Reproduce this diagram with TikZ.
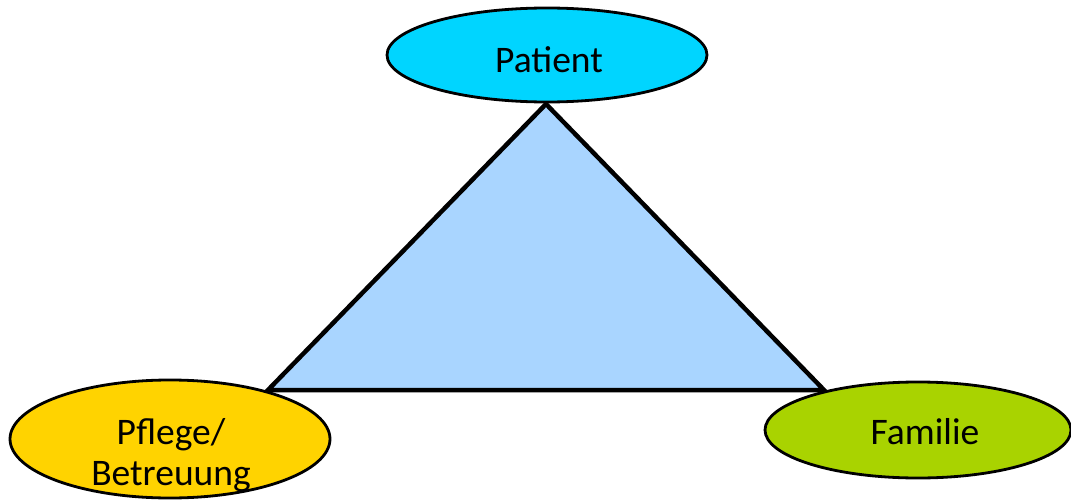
\documentclass[tikz,border=0pt]{standalone}
\usepackage{fontspec}
\setmainfont{Carlito}
\usetikzlibrary{shapes.geometric}
\definecolor{patientblue}{HTML}{00D5FF}
\definecolor{triblue}{HTML}{A9D5FF}
\definecolor{careyellow}{HTML}{FFD300}
\definecolor{familygreen}{HTML}{A9D300}
\tikzset{
  role/.style={ellipse, draw=black, line width=2.8pt, inner sep=0pt},
  rolelabel/.style={font=\fontsize{37.5}{41}\selectfont, align=center, inner sep=0pt},
}
\begin{document}
\begin{tikzpicture}[x=1pt, y=-1pt]
  \useasboundingbox (0,0) rectangle (1071,500);
  % corners of the triangle
  \coordinate (top) at (546,104);
  \coordinate (left) at (268,390);
  \coordinate (right) at (824,390);
  \draw[fill=triblue, line width=4.5pt, line join=miter] (top) -- (right) -- (left) -- cycle;
  % the three parties
  \node[role, fill=patientblue, minimum width=320pt, minimum height=94pt] (patient) at (547,55) {};
  \node[role, fill=careyellow, minimum width=320pt, minimum height=118pt] (care) at (170,439) {};
  \node[role, fill=familygreen, minimum width=306pt, minimum height=96pt] (family) at (918,430) {};
  % their names
  \node[rolelabel] (patienttext) at (549,60) {Patient};
  \node[rolelabel] (caretext) at (171,455) {Pflege/\\Betreuung};
  \node[rolelabel] (familytext) at (925,432) {Familie};
\end{tikzpicture}
\end{document}
